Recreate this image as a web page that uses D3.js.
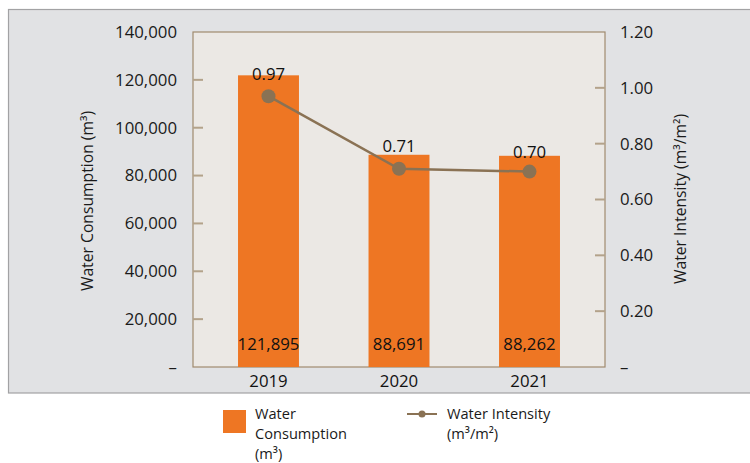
<!DOCTYPE html>
<html>
<head>
<meta charset="utf-8">
<script src="https://cdn.jsdelivr.net/npm/d3@7"></script>
<style>
  html, body { margin: 0; padding: 0; background: #ffffff; }
  svg { display: block; font-family: "Open Sans", "Noto Sans", sans-serif; }
</style>
</head>
<body>
<svg id="chart" width="750" height="463"></svg>
<script>
// Annual water figures
const years = ["2019", "2020", "2021"];
const consumption = [121895, 88691, 88262];      // m³
const intensity = [0.97, 0.71, 0.70];            // m³/m²
const leftTicks = [0, 20000, 40000, 60000, 80000, 100000, 120000, 140000];
const rightTicks = [0, 0.2, 0.4, 0.6, 0.8, 1.0, 1.2];

const svg = d3.select("#chart");
const W = 750, H = 463;
const plot = { left: 193, right: 605, top: 32, bottom: 367 };

const orange = "#ee7623";
const brown = "#8a7254";
const tickTan = "#b3a28a";
const fmtInt = d3.format(",");
const numSize = 16.8;

// outer panel
svg.append("rect")
  .attr("x", 8.5).attr("y", 9.5)
  .attr("width", W + 10).attr("height", 383.5)
  .attr("fill", "#e1e2e4")
  .attr("stroke", "#a2a2a4").attr("stroke-width", 1.2);

// plot area
svg.append("rect")
  .attr("x", plot.left).attr("y", plot.top)
  .attr("width", plot.right - plot.left).attr("height", plot.bottom - plot.top)
  .attr("fill", "#ebe8e4")
  .attr("stroke", "#a08a6e").attr("stroke-width", 1.2);

const x = d3.scaleBand().domain(years)
  .range([plot.left, plot.right])
  .paddingInner(0.533).paddingOuter(0.345);

const yL = d3.scaleLinear().domain([0, 140000]).range([plot.bottom, plot.top]);
const yR = d3.scaleLinear().domain([0, 1.2]).range([plot.bottom, plot.top]);

// left axis: tick marks inside the plot, labels outside
const leftAxis = svg.append("g");
leftAxis.selectAll("line").data(leftTicks.filter(d => d > 0 && d < 140000)).join("line")
  .attr("x1", plot.left).attr("x2", plot.left + 10)
  .attr("y1", d => yL(d)).attr("y2", d => yL(d))
  .attr("stroke", tickTan).attr("stroke-width", 2);
leftAxis.selectAll("text").data(leftTicks).join("text")
  .attr("x", 177).attr("y", d => yL(d))
  .attr("dy", "0.35em")
  .attr("text-anchor", "end")
  .attr("font-size", numSize).attr("fill", "#1a1a1a")
  .text(d => d === 0 ? "–" : fmtInt(d));

// right axis
const rightAxis = svg.append("g");
rightAxis.selectAll("line").data(rightTicks.filter(d => d > 0 && d < 1.2)).join("line")
  .attr("x1", plot.right - 10).attr("x2", plot.right)
  .attr("y1", d => yR(d)).attr("y2", d => yR(d))
  .attr("stroke", tickTan).attr("stroke-width", 2);
rightAxis.selectAll("text").data(rightTicks).join("text")
  .attr("x", 620).attr("y", d => yR(d))
  .attr("dy", "0.35em")
  .attr("text-anchor", "start")
  .attr("font-size", numSize).attr("fill", "#1a1a1a")
  .text(d => d === 0 ? "–" : d3.format(".2f")(d));

// axis titles
svg.append("text")
  .attr("transform", "translate(93,201) rotate(-90)")
  .attr("text-anchor", "middle")
  .attr("font-size", 15.7).attr("fill", "#1a1a1a")
  .text("Water Consumption (m³)");
svg.append("text")
  .attr("transform", "translate(686,199) rotate(-90)")
  .attr("text-anchor", "middle")
  .attr("font-size", 15.7).attr("fill", "#1a1a1a")
  .text("Water Intensity (m³/m²)");

// bars
svg.append("g").selectAll("rect").data(years).join("rect")
  .attr("x", d => x(d))
  .attr("width", x.bandwidth())
  .attr("y", (d, i) => yL(consumption[i]))
  .attr("height", (d, i) => plot.bottom - yL(consumption[i]))
  .attr("fill", orange);

// bar value labels
svg.append("g").selectAll("text").data(years).join("text")
  .attr("x", d => x(d) + x.bandwidth() / 2)
  .attr("y", 350)
  .attr("text-anchor", "middle")
  .attr("font-size", numSize).attr("fill", "#111")
  .text((d, i) => fmtInt(consumption[i]));

// year labels
svg.append("g").selectAll("text").data(years).join("text")
  .attr("x", d => x(d) + x.bandwidth() / 2)
  .attr("y", 387)
  .attr("text-anchor", "middle")
  .attr("font-size", numSize).attr("fill", "#111")
  .text(d => d);

// intensity line
const pts = years.map((d, i) => [x(d) + x.bandwidth() / 2, yR(intensity[i])]);
svg.append("path")
  .attr("d", d3.line()(pts))
  .attr("fill", "none")
  .attr("stroke", brown).attr("stroke-width", 2.5);
svg.append("g").selectAll("circle").data(pts).join("circle")
  .attr("cx", d => d[0]).attr("cy", d => d[1]).attr("r", 7)
  .attr("fill", brown);

// intensity labels
const labelDy = [-16, -17, -14];
svg.append("g").selectAll("text").data(pts).join("text")
  .attr("x", d => d[0])
  .attr("y", (d, i) => d[1] + labelDy[i])
  .attr("text-anchor", "middle")
  .attr("font-size", numSize).attr("fill", "#111")
  .text((d, i) => d3.format(".2f")(intensity[i]));

// legend
const legendSize = 14.6, legendGap = 20;
const lg = svg.append("g");
lg.append("rect").attr("x", 223).attr("y", 410).attr("width", 23).attr("height", 23).attr("fill", orange);
lg.selectAll("text.c").data(["Water", "Consumption", "(m³)"]).join("text")
  .attr("class", "c")
  .attr("font-size", legendSize).attr("fill", "#1a1a1a")
  .attr("x", 255).attr("y", (d, i) => 419 + i * legendGap).text(d => d);

lg.append("line").attr("x1", 407).attr("x2", 437).attr("y1", 414).attr("y2", 414)
  .attr("stroke", brown).attr("stroke-width", 2);
lg.append("circle").attr("cx", 422).attr("cy", 414).attr("r", 3.5).attr("fill", brown);
lg.selectAll("text.w").data(["Water Intensity", "(m³/m²)"]).join("text")
  .attr("class", "w")
  .attr("font-size", legendSize).attr("fill", "#1a1a1a")
  .attr("x", 447).attr("y", (d, i) => 419 + i * legendGap).text(d => d);
</script>
</body>
</html>
